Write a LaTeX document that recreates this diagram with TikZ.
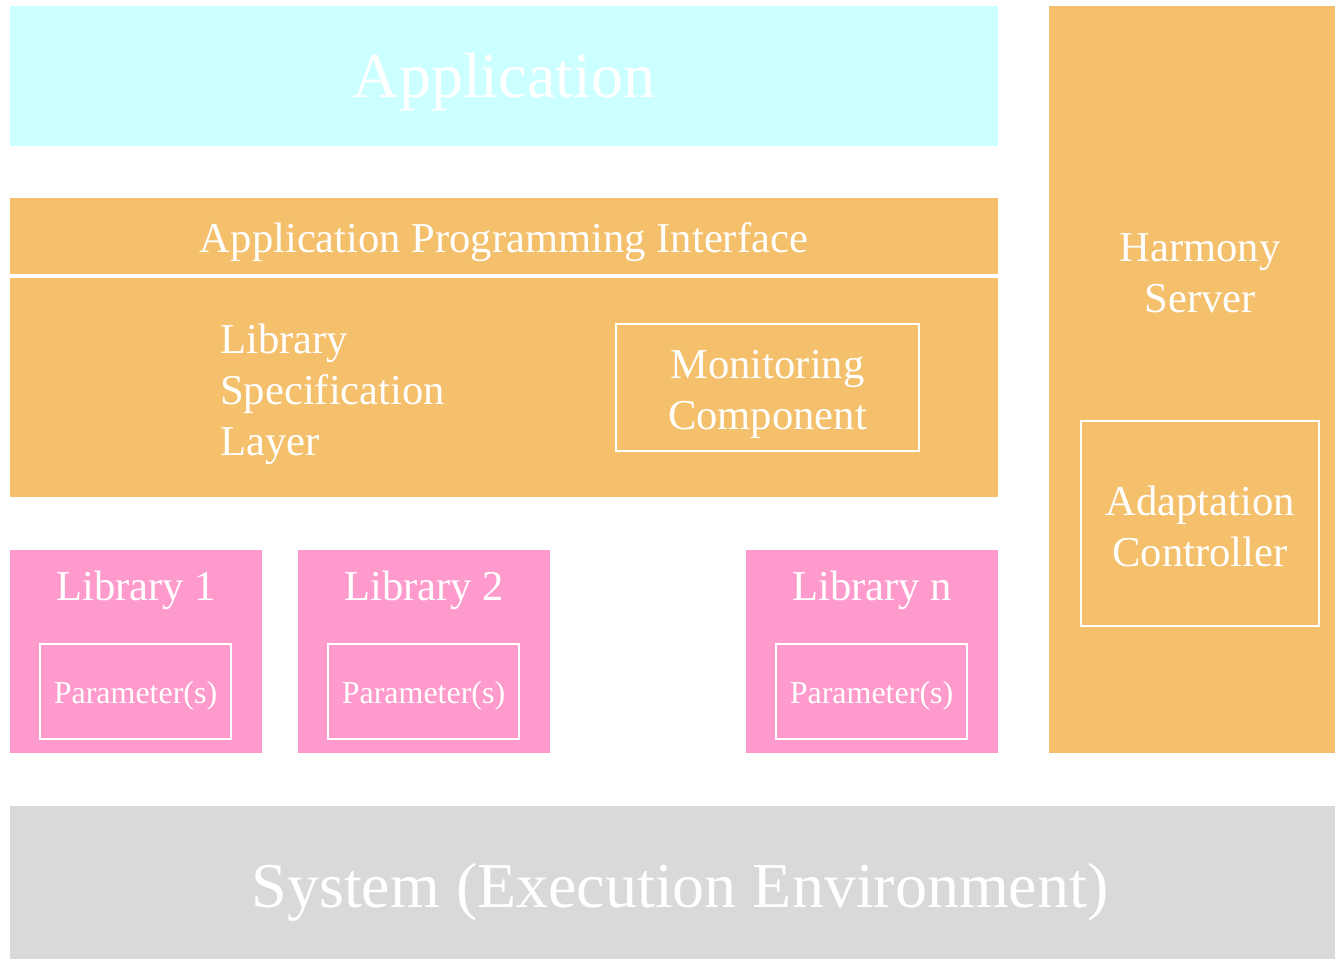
\documentclass[tikz,border=0pt]{standalone}
\usepackage{fontspec}
\setmainfont{Liberation Serif}

\definecolor{appcyan}{HTML}{CCFFFF}
\definecolor{layerorange}{HTML}{F4C06C}
\definecolor{libpink}{HTML}{FF9ACC}
\definecolor{sysgrey}{HTML}{D9D9D9}

\tikzset{
  layer/.style={rectangle, inner sep=0pt, outer sep=0pt},
  inset/.style={rectangle, draw=white, line width=2.5pt, inner sep=0pt},
  caption/.style={inner sep=0pt, text=white, align=center},
  bigtext/.style={font=\fontsize{64}{70}\selectfont},
  midtext/.style={font=\fontsize{42.6}{51}\selectfont},
  smalltext/.style={font=\fontsize{32}{38}\selectfont},
}

\begin{document}
\begin{tikzpicture}[x=1pt,y=-1pt]
  \clip (0,0) rectangle (1335,958);

  % top layer
  \node[layer, fill=appcyan, minimum width=988pt, minimum height=140pt] (app) at (504,76) {};
  \node[caption, bigtext] (apptext) at (504,82) {Application};

  % API and specification layer
  \node[layer, fill=layerorange, minimum width=988pt, minimum height=76pt] (api) at (504,236) {};
  \node[caption, midtext] (apitext) at (504,242) {Application Programming Interface};
  \node[layer, fill=layerorange, minimum width=988pt, minimum height=219pt] (spec) at (504,387.5) {};
  \node[caption, midtext, anchor=west, align=left] (spectext) at (220,394) {Library\\Specification\\Layer};
  \node[inset, minimum width=303pt, minimum height=127pt] (monitor) at (767.5,387.5) {};
  \node[caption, midtext] (monitortext) at (767.5,394) {Monitoring\\Component};

  % Library 1
  \begin{scope}[xshift=0pt]
    \node[layer, fill=libpink, minimum width=252pt, minimum height=203pt] (lib1) at (136,651.5) {};
    \node[caption, midtext] (lib1name) at (136,590) {Library 1};
    \node[inset, minimum width=191pt, minimum height=95pt] (param1) at (135.5,691.5) {};
    \node[caption, smalltext] (param1text) at (135.5,695.5) {Parameter(s)};
  \end{scope}

  % Library 2
  \begin{scope}[xshift=288pt]
    \node[layer, fill=libpink, minimum width=252pt, minimum height=203pt] (lib2) at (136,651.5) {};
    \node[caption, midtext] (lib2name) at (136,590) {Library 2};
    \node[inset, minimum width=191pt, minimum height=95pt] (param2) at (135.5,691.5) {};
    \node[caption, smalltext] (param2text) at (135.5,695.5) {Parameter(s)};
  \end{scope}

  % Library n
  \begin{scope}[xshift=736pt]
    \node[layer, fill=libpink, minimum width=252pt, minimum height=203pt] (libn) at (136,651.5) {};
    \node[caption, midtext] (libnname) at (136,590) {Library n};
    \node[inset, minimum width=191pt, minimum height=95pt] (paramn) at (135.5,691.5) {};
    \node[caption, smalltext] (paramntext) at (135.5,695.5) {Parameter(s)};
  \end{scope}

  % Harmony server column
  \node[layer, fill=layerorange, minimum width=302pt, minimum height=747pt] (harmony) at (1200,379.5) {};
  \node[caption, midtext] (harmonytext) at (1200,273.5) {Harmony\\Server};
  \node[inset, minimum width=238pt, minimum height=205pt] (adapt) at (1200,523.5) {};
  \node[caption, midtext] (adapttext) at (1200,526) {Adaptation\\Controller};

  % execution environment
  \node[layer, fill=sysgrey, minimum width=1340pt, minimum height=160pt] (system) at (680,886) {};
  \node[caption, bigtext] (systemtext) at (680,892) {System (Execution Environment)};
\end{tikzpicture}
\end{document}
